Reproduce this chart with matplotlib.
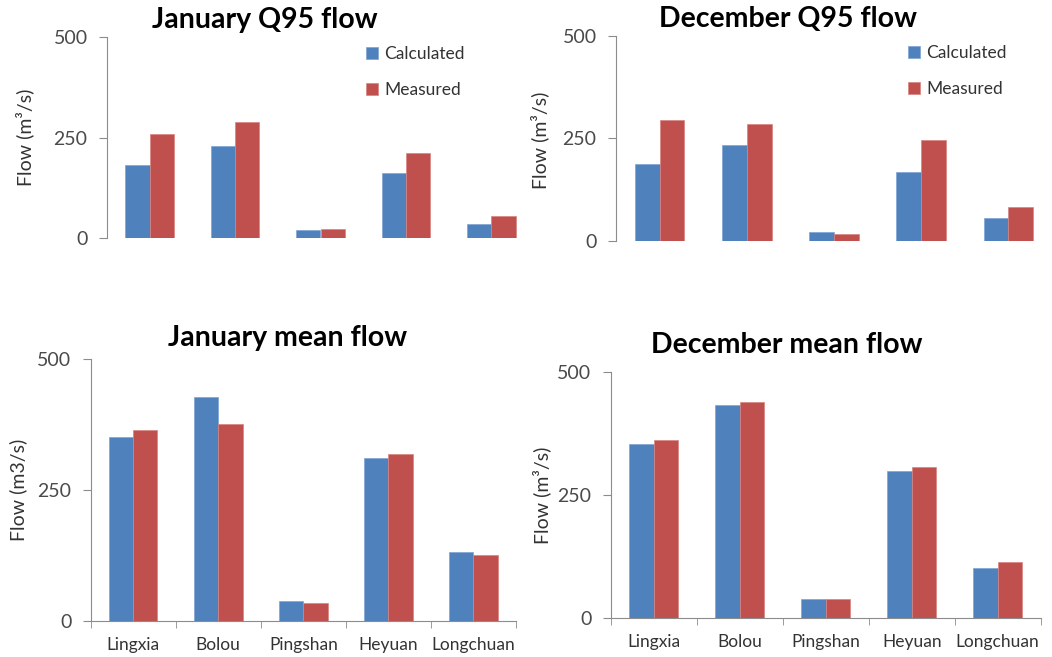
import matplotlib
matplotlib.use('Agg')
import matplotlib.pyplot as plt
import numpy as np

plt.rcParams['font.family'] = ['Lato', 'DejaVu Sans']

stations = ['Lingxia', 'Bolou', 'Pingshan', 'Heyuan', 'Longchuan']

jan_q95_calc = [181, 229, 20, 162, 36]
jan_q95_meas = [260, 289, 23, 213, 55]
dec_q95_calc = [187, 233, 21, 168, 56]
dec_q95_meas = [294, 284, 16, 246, 82]
jan_mean_calc = [352, 428, 37, 312, 131]
jan_mean_meas = [364, 376, 33, 319, 126]
dec_mean_calc = [354, 432, 39, 299, 102]
dec_mean_meas = [362, 438, 37, 307, 113]

W, H = 1052, 657
BLUE = '#4F81BD'
RED = '#C0504D'
GREY = '#8C8C8C'
TXT = '#333333'


def px_axes(fig, left, top, right, bottom):
    return fig.add_axes([left / W, 1 - bottom / H, (right - left) / W, (bottom - top) / H])


def draw_panel(ax, calc, meas, show_x):
    x = np.arange(len(stations))
    w = 0.285
    ax.bar(x - w / 2, calc, w, color=BLUE, edgecolor='#7FA3D3', linewidth=0.5, label='Calculated')
    ax.bar(x + w / 2, meas, w, color=RED, edgecolor='#D98480', linewidth=0.5, label='Measured')
    ax.set_xlim(-0.5, len(stations) - 0.5)
    ax.set_ylim(0, 500)
    ax.set_yticks([0, 250, 500])
    for s in ['top', 'right']:
        ax.spines[s].set_visible(False)
    ax.spines['left'].set_color(GREY)
    ax.tick_params(axis='y', length=6, color=GREY, pad=8, labelsize=14, labelcolor='#4A4A4A')
    if show_x:
        ax.spines['bottom'].set_color(GREY)
        ax.set_xticks(x)
        ax.set_xticklabels(stations)
        ax.set_xticks(np.arange(len(stations) + 1) - 0.5, minor=True)
        ax.tick_params(axis='x', which='major', length=0, pad=12, labelsize=12.5, labelcolor=TXT)
        ax.tick_params(axis='x', which='minor', length=5, color=GREY)
    else:
        ax.spines['bottom'].set_visible(False)
        ax.set_xticks([])
    ax.patch.set_alpha(0)


fig = plt.figure(figsize=(W / 100, H / 100), dpi=100)

ax1 = px_axes(fig, 107, 37.3, 534, 238)
draw_panel(ax1, jan_q95_calc, jan_q95_meas, False)
ax2 = px_axes(fig, 616, 36, 1052, 240.7)
draw_panel(ax2, dec_q95_calc, dec_q95_meas, False)
ax3 = px_axes(fig, 90.7, 359.3, 516, 620.7)
draw_panel(ax3, jan_mean_calc, jan_mean_meas, True)
ax4 = px_axes(fig, 610.7, 371.7, 1040.7, 617.7)
draw_panel(ax4, dec_mean_calc, dec_mean_meas, True)

leg_kw = dict(frameon=False, loc='upper left', borderaxespad=0, borderpad=0,
              handlelength=0.7, handleheight=0.7, handletextpad=0.35,
              labelspacing=1.15, fontsize=12.5, labelcolor=TXT)
ax1.legend(bbox_to_anchor=(0.607, 0.955), **leg_kw)
ax2.legend(bbox_to_anchor=(0.67, 0.955), **leg_kw)

# titles and axis labels placed in figure pixels
titles = [('January Q95 flow', 265, 20), ('December Q95 flow', 788, 19),
          ('January mean flow', 288, 338), ('December mean flow', 787, 345)]
for t, tx, ty in titles:
    fig.text(tx / W, 1 - ty / H, t, ha='center', va='center', fontsize=20.5,
             fontweight='bold', color='black')

ylabels = [('Flow (m³/s)', 25, 137), ('Flow (m³/s)', 540, 140),
           ('Flow (m3/s)', 18, 490), ('Flow (m³/s)', 541.7, 495)]
for t, tx, ty in ylabels:
    fig.text(tx / W, 1 - ty / H, t, ha='center', va='center', rotation=90,
             fontsize=14, color=TXT)

fig.savefig('out.png', dpi=100)
